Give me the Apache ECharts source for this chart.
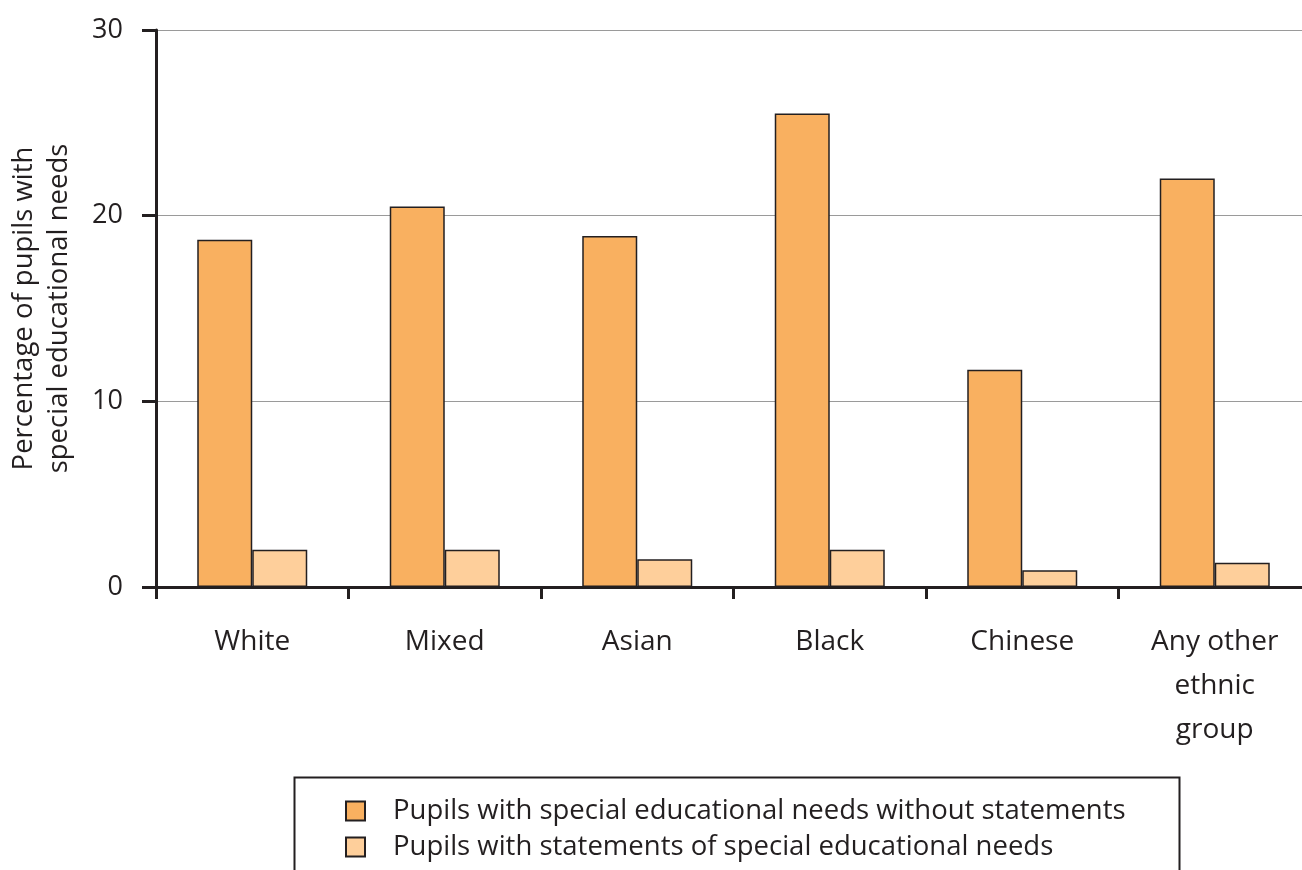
<!DOCTYPE html>
<html><head><meta charset="utf-8">
<script src="https://cdn.jsdelivr.net/npm/echarts@6/dist/echarts.min.js"></script>
<style>html,body{margin:0;padding:0;background:#fff}#c{width:1302px;height:870px}</style>
</head><body><div id="c"></div>
<script>
const categories = ['White', 'Mixed', 'Asian', 'Black', 'Chinese', 'Any other\nethnic\ngroup'];
const withoutStatements = [18.7, 20.5, 18.9, 25.5, 11.7, 22.0];
const withStatements = [2.0, 2.0, 1.5, 2.0, 0.9, 1.3];
const seriesNames = ['Pupils with special educational needs without statements', 'Pupils with statements of special educational needs'];
const yTicks = [0, 10, 20, 30];

const FONT = '"Open Sans", "Noto Sans", sans-serif';
const DARK = '#231f20';
const chart = echarts.init(document.getElementById('c'), null, {renderer: 'canvas'});
chart.setOption({
  animation: false,
  backgroundColor: '#fff',
  grid: {left: 156, right: -9, top: 30, bottom: 283, containLabel: false, outerBoundsMode: 'none'},
  xAxis: {
    type: 'category', data: categories,
    axisLine: {lineStyle: {color: DARK, width: 3}},
    axisTick: {show: true, length: 12, lineStyle: {color: DARK, width: 3}},
    axisLabel: {color: DARK, fontFamily: FONT, fontSize: 28, margin: 33, lineHeight: 44, interval: 0}
  },
  yAxis: {
    type: 'value', min: 0, max: 30, interval: 10,
    name: 'Percentage of pupils with\nspecial educational needs',
    nameLocation: 'middle', nameGap: 79,
    nameTextStyle: {color: DARK, fontFamily: FONT, fontSize: 27.5, lineHeight: 35},
    axisLine: {show: true, lineStyle: {color: DARK, width: 3}},
    axisTick: {show: true, length: 14, lineStyle: {color: DARK, width: 3}},
    axisLabel: {color: DARK, fontFamily: FONT, fontSize: 27, margin: 33,
      formatter: v => yTicks.includes(v) ? String(v) : ''},
    splitLine: {show: true, lineStyle: {color: '#9a9a9a', width: 1.2}}
  },
  legend: {
    orient: 'vertical', left: 340, top: 789, height: 120,
    icon: 'rect',
    itemWidth: 19, itemHeight: 19, itemGap: 2,
    textStyle: {color: DARK, fontFamily: FONT, fontSize: 27.5, lineHeight: 34, padding: [0, 0, 0, 23]},
    data: seriesNames
  },
  graphic: [{
    type: 'rect', left: 292, top: 775,
    shape: {width: 885, height: 120},
    style: {fill: null, stroke: DARK, lineWidth: 2}, silent: true
  }],
  series: [
    {name: seriesNames[0], type: 'bar', data: withoutStatements, barWidth: 55, barGap: '0%',
      itemStyle: {color: '#f9b060', borderColor: DARK, borderWidth: 1.5}},
    {name: seriesNames[1], type: 'bar', data: withStatements, barWidth: 55, barGap: '0%',
      itemStyle: {color: '#fecf9b', borderColor: DARK, borderWidth: 1.5}}
  ]
});
</script></body></html>
